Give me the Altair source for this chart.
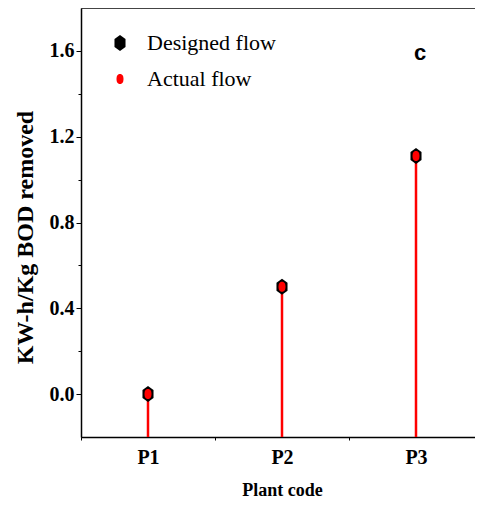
import altair as alt
import pandas as pd

# ---- data ----
plants = ["P1", "P2", "P3"]
designed_flow = [0.0, 0.5, 1.11]
actual_flow = [0.0, 0.5, 1.11]
series_names = ["Designed flow", "Actual flow"]
series_colors = ["#000000", "#ff0000"]
y_tick_values = [0.0, 0.2, 0.4, 0.6, 0.8, 1.0, 1.2, 1.4, 1.6]
panel_label = ["c"]
panel_label_plant = ["P3"]
panel_label_value = [1.59]

rows = []
for p, d, a in zip(plants, designed_flow, actual_flow):
    rows.append({"plant": p, "series": series_names[0], "value": d})
    rows.append({"plant": p, "series": series_names[1], "value": a})
df = pd.DataFrame(rows)
df_actual = df[df["series"] == series_names[1]]
df_label = pd.DataFrame({"plant": panel_label_plant, "value": panel_label_value, "text": panel_label})

hexagon = "M0,-1 L0.69,-0.5 L0.69,0.5 L0,1 L-0.69,0.5 L-0.69,-0.5 Z"
ellipse = ("M0,-1 C0.55,-1 0.7,-0.5 0.7,0 C0.7,0.5 0.55,1 0,1 "
           "C-0.55,1 -0.7,0.5 -0.7,0 C-0.7,-0.5 -0.55,-1 0,-1 Z")

W, H = 402, 429

x_enc = alt.X(
    "plant:N",
    scale=alt.Scale(domain=plants, paddingInner=0, paddingOuter=0),
    axis=alt.Axis(
        title="Plant code",
        labelAngle=0,
        tickBand="extent",
        labelFont="Liberation Serif",
        labelFontWeight="bold",
        labelFontSize=20,
        labelColor="#000",
        labelPadding=7,
        titleFont="Liberation Serif",
        titleFontWeight="bold",
        titleFontSize=18,
        titleColor="#000",
        titleBaseline="alphabetic",
        titleY=58,
        domainColor="#000",
        domainWidth=1.5,
        tickColor="#000",
        tickSize=3,
        tickWidth=1,
    ),
)

y_scale = alt.Scale(domain=[-0.2, 1.8], nice=False, zero=False)
y_axis = alt.Axis(
    title="KW-h/Kg BOD removed",
    values=y_tick_values,
    format=".1f",
    labelExpr="round(datum.value*10) % 4 == 0 ? datum.label : ''",
    labelFont="Liberation Serif",
    labelFontWeight="bold",
    labelFontSize=20,
    labelColor="#000",
    labelPadding=2,
    tickSize={"condition": {"test": "round(datum.value*10) % 4 == 0", "value": 5}, "value": 3},
    tickColor="#000",
    tickWidth=1,
    domainColor="#000",
    domainWidth=1.5,
    grid=False,
    titleFont="Liberation Serif",
    titleFontWeight="bold",
    titleFontSize=24,
    titleColor="#000",
    titleAngle=270,
    titleAlign="center",
    titleBaseline="alphabetic",
    titleX=-49,
    titleY=229,
)

stems = alt.Chart(df_actual).mark_rule(color="#ff0000", strokeWidth=2.5).encode(
    x=x_enc,
    y=alt.Y("value:Q", scale=y_scale, axis=y_axis),
    y2=alt.value(H),
)

points = alt.Chart(df).mark_point(filled=True, opacity=1, strokeWidth=0).encode(
    x=x_enc,
    y=alt.Y("value:Q", scale=y_scale, axis=y_axis),
    color=alt.Color("series:N", scale=alt.Scale(domain=series_names, range=series_colors),
                    legend=alt.Legend(
                        title=None, orient="none", legendX=28, legendY=24,
                        labelFont="Liberation Serif", labelFontSize=22, labelColor="#000",
                        labelOffset=16, rowPadding=14, padding=0,
                        symbolStrokeWidth=0, symbolOpacity=1,
                    )),
    shape=alt.Shape("series:N", scale=alt.Scale(domain=series_names, range=[hexagon, ellipse])),
    size=alt.Size("series:N", scale=alt.Scale(domain=series_names, range=[256, 100])),
    order=alt.Order("series:N", sort="descending"),
)

label = alt.Chart(df_label).mark_text(
    font="Liberation Sans", fontWeight="bold", fontSize=22, color="#000",
    align="center", baseline="middle", dx=4,
).encode(
    x=alt.X("plant:N", scale=alt.Scale(domain=plants, paddingInner=0, paddingOuter=0)),
    y=alt.Y("value:Q", scale=y_scale),
    text="text:N",
)

chart = alt.layer(stems, points, label).properties(
    width=W,
    height=H,
    autosize=alt.AutoSizeParams(type="none"),
    padding={"left": 73, "top": 0, "right": -8, "bottom": 63},
    background="#ffffff",
).configure_view(stroke="#444", strokeWidth=1)

chart.save("out.html", embed_options={"renderer": "svg", "actions": False})
